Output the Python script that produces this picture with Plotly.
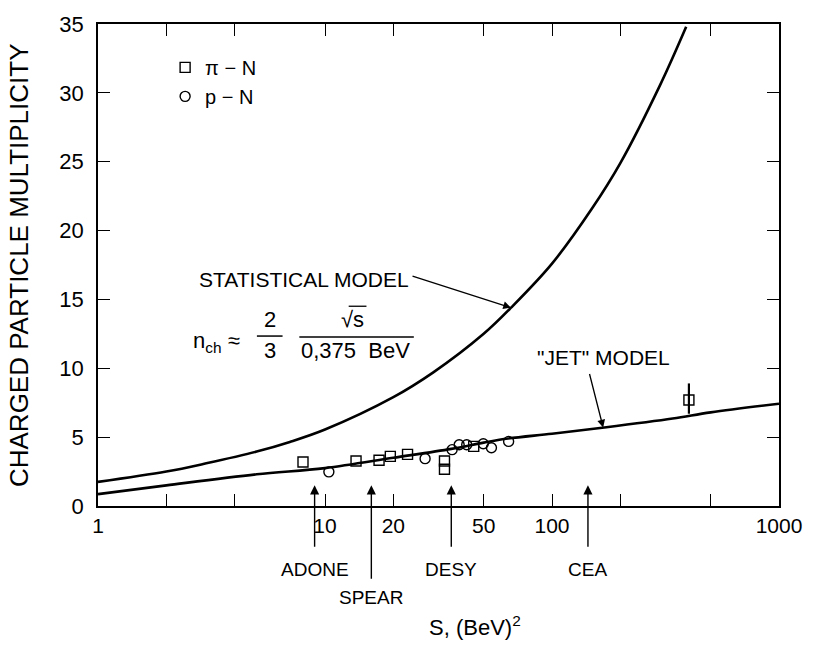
import math
import plotly.graph_objects as go

# ---------------- data ----------------
# Statistical model curve  n_ch ~ (2/3) sqrt(s)/0.375 BeV
stat_s = [1, 2, 3, 5, 7, 10, 20, 30, 50, 66, 100, 150, 200, 300, 390]
stat_n = [1.75, 2.5, 3.1, 3.95, 4.65, 5.55, 7.9, 9.7, 12.5, 14.4, 17.6, 21.6, 24.9, 30.6, 34.8]

# "Jet" model curve
jet_s = [1, 2, 5, 10, 20, 36, 50, 64, 100, 170, 340, 500, 1000]
jet_n = [0.86, 1.5, 2.3, 2.75, 3.5, 4.15, 4.6, 4.9, 5.25, 5.7, 6.35, 6.8, 7.43]

# pi-N data (open squares)
piN_s = [8.0, 13.7, 17.3, 19.4, 23.1, 33.6, 33.6, 45.2, 401]
piN_n = [3.2, 3.27, 3.32, 3.6, 3.75, 3.27, 2.67, 4.33, 7.7]
piN_err_plus = [0, 0, 0, 0, 0, 0, 0, 0, 1.2]
piN_err_minus = [0, 0, 0, 0, 0, 0, 0, 0, 1.0]

# p-N data (open circles)
pN_s = [10.4, 27.6, 36.3, 39.0, 42.1, 49.8, 54.1, 64.4]
pN_n = [2.48, 3.44, 4.09, 4.45, 4.45, 4.52, 4.23, 4.69]

# e+e- storage rings marked below the axis
rings = ["ADONE", "SPEAR", "DESY", "CEA"]
rings_s = [9, 16, 36, 144]

# axis ticks
x_tickvals = [1, 2, 4, 10, 20, 50, 100, 200, 500, 1000]
x_ticktext = ["1", "", "", "10", "20", "50", "100", "", "", "1000"]
y_tickvals = [0, 5, 10, 15, 20, 25, 30, 35]

# ---------------- layout helpers ----------------
W, H = 814, 648
L, R, T, B = 98, 26, 21, 142
PW, PH = W - L - R, H - T - B


def px(xp):
    return (xp - L) / PW


def py(yp):
    return (H - B - yp) / PH


FONT = "Liberation Sans, Arial, sans-serif"
BLK = "black"

fig = go.Figure()

fig.add_trace(go.Scatter(x=stat_s, y=stat_n, mode="lines", line=dict(color=BLK, width=2.6, shape="spline"),
                         showlegend=False, hoverinfo="skip"))
fig.add_trace(go.Scatter(x=jet_s, y=jet_n, mode="lines", line=dict(color=BLK, width=2.6, shape="spline"),
                         showlegend=False, hoverinfo="skip"))
fig.add_trace(go.Scatter(x=piN_s, y=piN_n, mode="markers", name="\u03c0 \u2212 N",
                         marker=dict(symbol="square-open", size=10, color=BLK, line=dict(width=1.4, color=BLK)),
                         error_y=dict(type="data", array=piN_err_plus, arrayminus=piN_err_minus,
                                      symmetric=False, width=0, thickness=2.2, color=BLK)))
fig.add_trace(go.Scatter(x=pN_s, y=pN_n, mode="markers", name="p \u2212 N",
                         marker=dict(symbol="circle-open", size=10, color=BLK, line=dict(width=1.4, color=BLK))))

annotations = []

# storage-ring arrows and labels
ring_tail = {"ADONE": 63, "SPEAR": 95, "DESY": 63, "CEA": 63}
ring_label_y = {"ADONE": 570, "SPEAR": 598, "DESY": 570, "CEA": 570}
for name, s in zip(rings, rings_s):
    annotations.append(dict(x=math.log10(s), y=1.5, xref="x", yref="y", text="", showarrow=True,
                            ax=0, ay=ring_tail[name], axref="pixel", ayref="pixel",
                            arrowhead=2, arrowsize=1.3, arrowwidth=1.4, arrowcolor=BLK))
    annotations.append(dict(x=math.log10(s), y=py(ring_label_y[name]), xref="x", yref="paper",
                            text=name, showarrow=False, font=dict(size=19, color=BLK, family=FONT),
                            xanchor="center", yanchor="middle"))

# axis titles
annotations.append(dict(x=px(480), y=py(627), xref="paper", yref="paper", text="S, (BeV)<sup>2</sup>",
                        showarrow=False, font=dict(size=22, color=BLK, family=FONT), xanchor="center",
                        yanchor="middle"))
annotations.append(dict(x=px(18), y=0.5, xref="paper", yref="paper", text="CHARGED PARTICLE MULTIPLICITY",
                        textangle=-90, showarrow=False, font=dict(size=26, color=BLK, family=FONT),
                        xanchor="center", yanchor="middle"))

# statistical model label + arrow
annotations.append(dict(x=px(307), y=py(278), xref="paper", yref="paper", text="STATISTICAL MODEL",
                        showarrow=False, font=dict(size=21, color=BLK, family=FONT),
                        xanchor="center", yanchor="middle"))
annotations.append(dict(x=math.log10(66), y=14.4, xref="x", yref="y", text="", showarrow=True,
                        ax=-100, ay=-32, arrowhead=2, arrowsize=1.2, arrowwidth=1.3, arrowcolor=BLK))

# jet model label + arrow
annotations.append(dict(x=px(610), y=py(357), xref="paper", yref="paper", text="\"JET\" MODEL",
                        showarrow=False, font=dict(size=21, color=BLK, family=FONT),
                        xanchor="center", yanchor="middle"))
annotations.append(dict(x=math.log10(168), y=5.7, xref="x", yref="y", text="", showarrow=True,
                        ax=-14, ay=-55, arrowhead=2, arrowsize=1.2, arrowwidth=1.3, arrowcolor=BLK))

# formula
FF = dict(size=22, color=BLK, family=FONT)
annotations.append(dict(x=px(192), y=py(341), xref="paper", yref="paper", text="n<sub>ch</sub> \u2248",
                        showarrow=False, font=FF, xanchor="left", yanchor="middle"))
annotations.append(dict(x=px(272), y=py(318), xref="paper", yref="paper", text="2",
                        showarrow=False, font=FF, xanchor="center", yanchor="middle"))
annotations.append(dict(x=px(272), y=py(350), xref="paper", yref="paper", text="3",
                        showarrow=False, font=FF, xanchor="center", yanchor="middle"))
annotations.append(dict(x=px(356), y=py(318), xref="paper", yref="paper", text="\u221as",
                        showarrow=False, font=FF, xanchor="center", yanchor="middle"))
annotations.append(dict(x=px(359), y=py(350), xref="paper", yref="paper", text="0,375  BeV",
                        showarrow=False, font=FF, xanchor="center", yanchor="middle"))

shapes = [
    dict(type="line", xref="paper", yref="paper", x0=px(259), x1=px(285), y0=py(335), y1=py(335),
         line=dict(color=BLK, width=1.5)),
    dict(type="line", xref="paper", yref="paper", x0=px(302), x1=px(418), y0=py(336), y1=py(336),
         line=dict(color=BLK, width=1.5)),
    dict(type="line", xref="paper", yref="paper", x0=px(352), x1=px(370), y0=py(305), y1=py(305),
         line=dict(color=BLK, width=1.3)),
]

fig.update_layout(
    width=W, height=H,
    margin=dict(l=L, r=R, t=T, b=B, pad=0),
    paper_bgcolor="white", plot_bgcolor="white",
    font=dict(family=FONT, color=BLK, size=22),
    annotations=annotations,
    shapes=shapes,
    legend=dict(x=px(166), y=py(45), xanchor="left", yanchor="top", bgcolor="rgba(0,0,0,0)",
                font=dict(size=20, color=BLK, family=FONT), itemwidth=30, tracegroupgap=0),
    showlegend=True,
)

fig.update_xaxes(type="log", range=[0, 3], tickvals=x_tickvals, ticktext=x_ticktext,
                 ticks="inside", ticklen=12, tickwidth=1.3, tickcolor=BLK,
                 showline=True, linecolor=BLK, linewidth=1.6, mirror="ticks",
                 showgrid=False, zeroline=False, tickfont=dict(size=21, color=BLK, family=FONT))
fig.update_yaxes(range=[0, 35], tickvals=y_tickvals, ticks="inside", ticklen=12, tickwidth=1.3, tickcolor=BLK,
                 showline=True, linecolor=BLK, linewidth=1.6, mirror="ticks",
                 showgrid=False, zeroline=False, ticklabelstandoff=8,
                 tickfont=dict(size=22, color=BLK, family=FONT))

fig.write_html("out.html", config={"displayModeBar": False},
               post_script="document.body.style.margin='0';")
